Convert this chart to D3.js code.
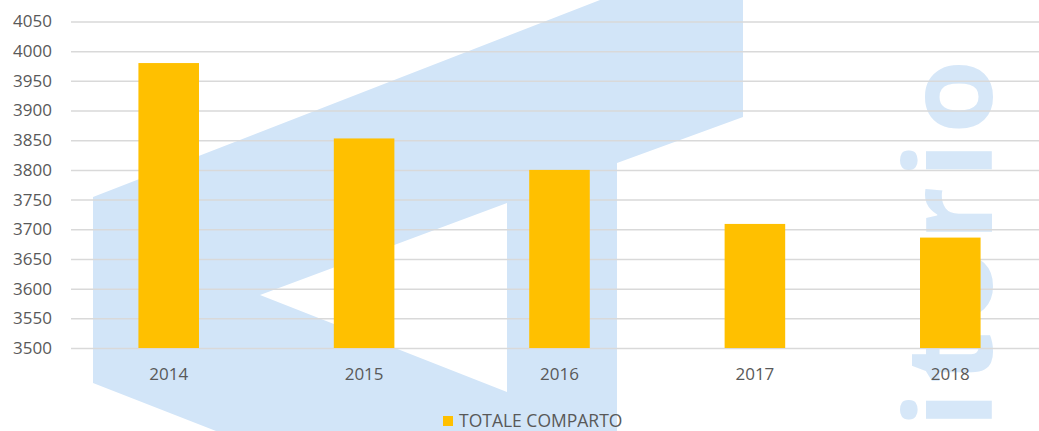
<!DOCTYPE html>
<html lang="it">
<head>
<meta charset="UTF-8">
<title>Totale comparto</title>
<script src="https://cdn.jsdelivr.net/npm/d3@7"></script>
<style>
  body { margin: 0; background: #fff; }
  svg text { font-family: "Open Sans", sans-serif; fill: #595959; }
</style>
</head>
<body>
<div id="chart"></div>
<script>
// values
var years = ["2014", "2015", "2016", "2017", "2018"];
var totale = [3980, 3853, 3800, 3709, 3686];
var yTicks = [3500, 3550, 3600, 3650, 3700, 3750, 3800, 3850, 3900, 3950, 4000, 4050];
var seriesName = "TOTALE COMPARTO";

var width = 1039, height = 431;
var margin = {top: 21.5, left: 71, bottom: 83};

var svg = d3.select("#chart").append("svg")
    .attr("width", width)
    .attr("height", height);

// background watermark (light blue logo behind the chart)
var wm = svg.append("g").attr("fill", "#d2e5f8");
wm.append("path")
    .attr("fill-rule", "evenodd")
    .attr("d", "M93,197 L600,0 L743,0 L743,117 L617,163 L617,431 L216,431 L93,383 Z " +
               "M260,295 L507,203 L507,392 Z");
wm.append("text")
    .attr("transform", "translate(992,428) rotate(-90)")
    .style("fill", "#d6e7f8")
    .style("font-family", "'Open Sans', sans-serif")
    .style("font-weight", 700)
    .style("font-size", "120px")
    .style("letter-spacing", "8px")
    .text("itorio");

var x = d3.scaleBand()
    .domain(years)
    .range([margin.left, margin.left + 5 * 195.4])
    .paddingInner(0.69)
    .paddingOuter(0.345);

var y = d3.scaleLinear()
    .domain([3500, 4050])
    .range([348, margin.top]);

// gridlines + y labels
var yAxis = svg.append("g")
    .attr("transform", "translate(" + margin.left + ",0)")
    .call(d3.axisLeft(y).tickValues(yTicks).tickFormat(d3.format("d"))
      .tickSize(-(width - margin.left)).tickPadding(19));
yAxis.select(".domain").remove();
yAxis.selectAll(".tick line").attr("stroke", "#d9d9d9").attr("stroke-width", 1.5);
yAxis.selectAll(".tick text").style("font-size", "17px").style("fill", "#595959");

// bars
svg.append("g").selectAll("rect")
    .data(totale)
    .join("rect")
    .attr("x", function(d, i) { return x(years[i]); })
    .attr("y", function(d) { return y(d); })
    .attr("width", x.bandwidth())
    .attr("height", function(d) { return y(3500) - y(d); })
    .attr("fill", "#ffc000");

// x labels
var xAxis = svg.append("g")
    .attr("transform", "translate(0,348)")
    .call(d3.axisBottom(x).tickSize(0).tickPadding(20));
xAxis.select(".domain").remove();
xAxis.selectAll(".tick text").style("font-size", "17px").style("fill", "#595959");

// legend
var legend = svg.append("g").attr("transform", "translate(443,421)");
legend.append("rect")
    .attr("x", 0).attr("y", -5)
    .attr("width", 10).attr("height", 10)
    .attr("fill", "#ffc000");
legend.append("text")
    .attr("x", 16)
    .attr("dy", "0.35em")
    .style("font-size", "17.5px")
    .text(seriesName);
</script>
</body>
</html>
